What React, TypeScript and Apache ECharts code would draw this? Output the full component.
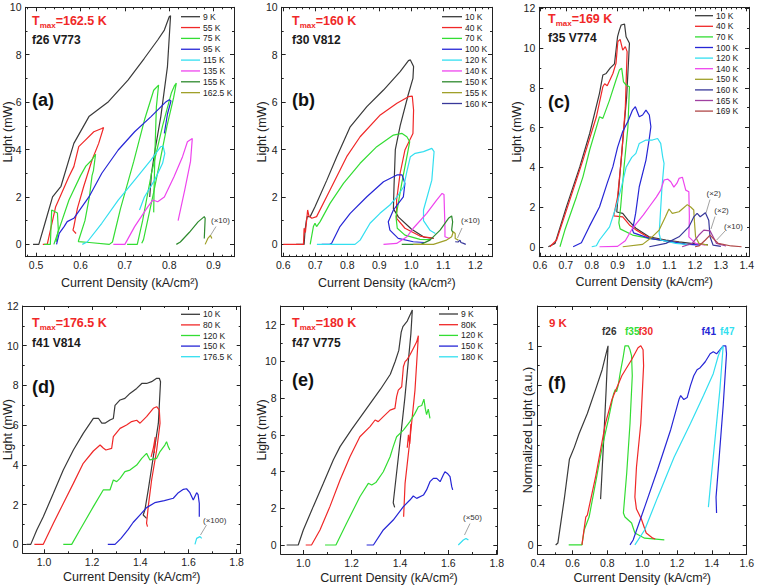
import React, { useEffect, useRef } from "react";
import * as echarts from "echarts";

const F = "'Liberation Sans', Arial, sans-serif";
const BLACK = "#3a3a3a";
const RED = "#f02828";
const GREEN = "#33dd33";
const BLUE = "#2626d6";
const CYAN = "#33dff0";
const MAGENTA = "#ee44ee";
const DKGREEN = "#2e8a2e";
const OLIVE = "#a0a02a";
const NAVY = "#38389a";
const PURPLE = "#a040a0";
const BROWN = "#b04848";

// ---------- panel (a) f26 V773 ----------
const a9K = [[0.493,0],[0.506,0],[0.52,0.9],[0.537,2.0],[0.556,2.45],[0.585,4.26],[0.619,5.39],[0.663,6.02],[0.707,6.93],[0.744,7.85],[0.774,8.62],[0.789,9.04],[0.8,9.6],[0.803,9.65],[0.796,7.5],[0.781,5.39],[0.768,3.98],[0.76,3.0],[0.756,2.0]];
const a55K = [[0.515,0],[0.525,0],[0.544,1.59],[0.574,2.86],[0.585,3.28],[0.596,4.12],[0.611,4.4],[0.63,4.75],[0.648,4.89],[0.652,4.93],[0.641,4.26],[0.626,3.56],[0.607,2.43],[0.593,1.52],[0.585,0.75],[0.583,0.6],[0.59,0.46]];
const a75K_1 = [[0.518,0],[0.532,0],[0.535,1.45],[0.548,1.32],[0.55,0.6],[0.545,0.1]];
const a75K_2 = [[0.54,0],[0.574,1.87],[0.6,2.9],[0.612,3.3],[0.625,3.55],[0.634,3.8],[0.629,3.1],[0.626,2.9],[0.62,2.0],[0.61,1.0],[0.598,0.3],[0.595,0.12],[0.62,0.08],[0.665,0.0],[0.672,0.1],[0.69,1.5],[0.72,3.5],[0.745,5.3],[0.765,6.5],[0.776,6.72],[0.771,5.8],[0.768,4.0],[0.766,2.5],[0.765,1.35]];
const a75K_3 = [[0.705,0],[0.728,0],[0.74,1.0],[0.76,3.0],[0.785,5.0],[0.805,6.4],[0.812,6.7],[0.816,6.8],[0.81,6.2],[0.795,5.0],[0.78,3.6],[0.765,2.2],[0.75,0.9],[0.742,0.2],[0.738,0.05]];
const a95K = [[0.546,0],[0.552,0.46],[0.563,0.75],[0.57,0.96],[0.585,1.1],[0.619,2.0],[0.648,3.0],[0.685,3.98],[0.722,4.75],[0.759,5.39],[0.793,6.02],[0.8,6.1],[0.804,6.05],[0.796,5.5],[0.789,4.68]];
const a115K = [[0.604,0],[0.615,0.1],[0.648,0.89],[0.685,1.87],[0.722,2.71],[0.759,3.56],[0.781,4.12],[0.786,4.15],[0.79,3.84],[0.785,3.42],[0.767,2.71],[0.744,2.0],[0.733,1.45]];
const a135K = [[0.674,0],[0.7,0],[0.722,0.75],[0.752,1.59],[0.763,1.87],[0.774,1.8],[0.789,2.0],[0.811,2.86],[0.83,3.7],[0.841,4.33],[0.852,4.47],[0.848,3.5],[0.835,2.3],[0.82,1.0]];
const a155K = [[0.816,0],[0.825,0.1],[0.845,0.5],[0.865,0.95],[0.879,1.17],[0.881,1.1],[0.879,0.25]];
const a162K = [[0.881,0],[0.887,0.25],[0.893,0.38],[0.896,0.25]];

// ---------- panel (b) f30 V812 ----------
const b10K = [[0.64,0],[0.665,0],[0.668,0.6],[0.672,1.0],[0.675,1.17],[0.684,1.17],[0.699,1.59],[0.736,2.71],[0.767,3.7],[0.809,4.96],[0.861,5.81],[0.913,6.51],[0.965,7.29],[0.991,7.75],[0.997,7.78],[1.007,7.5],[1.005,7.0],[0.99,6.3],[0.965,5.0],[0.95,4.0],[0.946,2.5],[0.944,1.5],[0.96,1.15],[1.0,0.65],[1.04,0.3],[1.07,0.25]];
const b40K = [[0.6,0],[0.663,0],[0.665,0.68],[0.669,0.5],[0.673,1.03],[0.676,1.45],[0.68,1.2],[0.689,1.1],[0.704,1.17],[0.746,2.29],[0.798,3.7],[0.84,4.54],[0.903,5.46],[0.955,5.95],[0.991,6.23],[1.003,6.25],[1.007,5.67],[1.005,4.68],[0.98,3.98],[0.965,3.0],[0.954,1.87],[0.954,1.1],[0.98,0.68],[1.027,0.35],[1.069,0.25]];
const b70K = [[0.684,0],[0.694,0.75],[0.699,0.89],[0.704,0.75],[0.715,0.96],[0.746,1.73],[0.788,2.57],[0.84,3.42],[0.892,4.12],[0.944,4.61],[0.971,4.68],[0.986,4.54],[0.995,4.33],[0.99,3.98],[0.97,2.57],[0.952,1.17],[0.956,0.68],[0.98,0.39],[1.027,0.21],[1.06,0.2]];
const b100K = [[0.72,0],[0.745,0],[0.751,0.05],[0.777,0.75],[0.809,1.31],[0.861,2.01],[0.913,2.64],[0.955,2.93],[0.971,2.93],[0.98,2.57],[0.975,2.0],[0.944,1.45],[0.928,0.95],[0.933,0.6],[0.959,0.25],[1.006,0.11],[1.04,0.08]];
const b120K = [[0.705,0],[0.824,0],[0.84,0.18],[0.871,0.89],[0.902,1.31],[0.933,1.66],[0.955,2.0],[0.976,2.43],[0.986,3.07],[0.997,3.7],[1.012,3.84],[1.038,3.91],[1.064,4.05],[1.071,3.91],[1.064,2.71],[1.038,1.45],[1.038,1.0],[1.058,0.6],[1.075,0.46]];
const b140K = [[0.913,0],[0.954,0.04],[0.986,0.32],[1.006,0.68],[1.048,1.31],[1.079,1.87],[1.096,2.15],[1.102,2.1],[1.105,0.74],[1.105,0.32],[1.12,0.25]];
const b150K = [[0.97,0],[1.03,0],[1.058,0.18],[1.09,0.6],[1.116,1.1],[1.126,1.2],[1.129,0.95],[1.126,0.6],[1.13,0.5]];
const b155K = [[1.006,0],[1.069,0],[1.11,0.18],[1.126,0.32],[1.131,0.53],[1.137,0.46],[1.137,0.25],[1.147,0.18]];
const b160K = [[1.137,0.11],[1.146,0.1],[1.152,0.18],[1.155,0.08],[1.163,0.04],[1.17,0]];

// ---------- panel (c) f35 V774 ----------
const c10K = [[0.632,0],[0.658,0.17],[0.702,2.01],[0.754,4.03],[0.792,5.7],[0.83,7.72],[0.843,8.64],[0.856,8.72],[0.872,9.0],[0.888,9.2],[0.9,10.57],[0.907,10.9],[0.914,11.16],[0.927,11.2],[0.933,10.57],[0.946,10.24],[0.935,7.5],[0.918,5.0],[0.905,3.0],[0.897,1.75],[0.92,1.68],[0.94,1.35],[0.971,0.93],[1.022,0.5],[1.087,0.34],[1.138,0.25],[1.2,0.15],[1.25,0.1]];
const c40K = [[0.638,0],[0.664,0.34],[0.715,2.35],[0.766,4.36],[0.818,6.54],[0.843,8.05],[0.85,8.2],[0.86,8.1],[0.882,8.72],[0.894,9.23],[0.901,10.32],[0.91,10.44],[0.92,9.9],[0.93,10.07],[0.937,9.82],[0.93,7.0],[0.915,4.5],[0.9,2.5],[0.885,1.55],[0.92,1.5],[0.946,1.1],[0.971,0.85],[1.022,0.45],[1.087,0.3],[1.15,0.2]];
const c70K = [[0.677,0],[0.696,0.84],[0.741,2.52],[0.766,3.52],[0.792,4.87],[0.83,6.54],[0.843,6.46],[0.869,7.38],[0.894,8.39],[0.907,8.89],[0.916,8.98],[0.923,8.3],[0.933,8.14],[0.946,8.05],[0.94,6.0],[0.925,4.0],[0.912,2.0],[0.905,1.2],[0.91,0.9],[0.958,0.59],[1.023,0.42],[1.112,0.25],[1.16,0.15]];
const c100K = [[0.728,0],[0.76,0.2],[0.79,1.0],[0.83,2.0],[0.86,3.2],[0.882,4.03],[0.9,5.0],[0.92,5.8],[0.94,6.3],[0.958,6.88],[0.969,7.05],[0.984,6.54],[0.997,6.63],[1.01,6.88],[1.023,6.63],[1.029,6.04],[1.022,5.37],[1.01,4.36],[0.984,3.02],[0.97,1.68],[0.958,0.84],[0.962,0.7],[1.023,0.42],[1.112,0.25],[1.163,0.13],[1.22,0.08]];
const c120K = [[0.8,0],[0.818,0.05],[0.83,0.34],[0.869,1.0],[0.894,2.0],[0.915,3.0],[0.933,4.0],[0.955,4.5],[0.971,4.7],[0.984,5.2],[1.01,5.37],[1.035,5.37],[1.055,5.45],[1.067,5.2],[1.075,4.5],[1.08,4.2],[1.072,3.0],[1.065,1.5],[1.061,0.67],[1.067,0.34],[1.125,0.17],[1.18,0.1]];
const c140K = [[0.83,0],[0.9,0.02],[0.93,0.3],[0.958,0.93],[1.0,1.6],[1.022,2.0],[1.05,2.5],[1.067,2.85],[1.08,3.36],[1.095,3.4],[1.106,3.27],[1.118,3.0],[1.13,3.2],[1.138,3.44],[1.151,3.5],[1.164,2.85],[1.176,2.77],[1.178,1.5],[1.176,0.5],[1.202,0.17],[1.24,0.08]];
const c150K = [[0.92,0],[0.997,0.12],[1.03,0.45],[1.061,0.84],[1.085,1.5],[1.099,1.9],[1.112,1.68],[1.138,1.76],[1.155,1.95],[1.17,2.12],[1.183,2.0],[1.195,1.85],[1.198,1.2],[1.202,0.5],[1.215,0.17],[1.25,0.08]];
const c160K = [[1.023,0],[1.087,0.17],[1.138,0.5],[1.176,1.0],[1.195,1.5],[1.208,1.68],[1.22,1.51],[1.24,1.71],[1.253,1.34],[1.258,0.5],[1.27,0.08],[1.3,0.02]];
const c165K = [[1.15,0],[1.189,0.17],[1.215,0.59],[1.234,0.84],[1.258,0.8],[1.27,0.5],[1.283,0.17],[1.32,0.04]];
const c169K = [[1.2,0],[1.215,0.04],[1.24,0.34],[1.258,0.59],[1.27,0.42],[1.29,0.17],[1.34,0.04],[1.38,0]];

// ---------- panel (d) f41 V814 ----------
const d10K = [[0.928,0],[0.945,0],[0.97,0.72],[0.997,1.39],[1.039,2.57],[1.08,3.74],[1.122,4.75],[1.163,5.59],[1.205,6.34],[1.226,6.35],[1.24,6.1],[1.253,6.1],[1.274,6.26],[1.288,6.34],[1.295,7.0],[1.316,7.27],[1.336,7.35],[1.357,7.6],[1.385,7.85],[1.406,8.1],[1.426,8.1],[1.447,8.19],[1.468,8.36],[1.479,8.36],[1.484,8.19],[1.475,6.1],[1.454,4.41],[1.433,2.74],[1.419,1.73],[1.412,1.48],[1.426,1.31]];
const d80K = [[0.96,0],[0.997,0],[1.039,1.06],[1.08,2.06],[1.122,3.07],[1.163,4.08],[1.205,4.7],[1.233,5.0],[1.246,4.85],[1.257,4.75],[1.281,4.83],[1.288,5.42],[1.316,5.84],[1.343,6.01],[1.364,6.18],[1.385,6.25],[1.399,6.1],[1.426,6.43],[1.454,6.85],[1.468,6.93],[1.479,6.76],[1.482,6.1],[1.468,4.75],[1.447,3.24],[1.433,1.9],[1.426,1.06],[1.43,0.89]];
const d80K_b = [[1.445,4.4],[1.455,4.9],[1.462,5.4],[1.458,4.6]];
const d120K = [[1.08,0],[1.115,0],[1.149,0.72],[1.205,1.9],[1.246,2.74],[1.274,2.74],[1.288,3.24],[1.302,3.16],[1.316,3.32],[1.336,3.66],[1.357,3.74],[1.385,3.99],[1.406,4.33],[1.426,4.58],[1.44,4.25],[1.468,4.33],[1.482,4.67],[1.502,5.0],[1.509,5.17],[1.516,4.92],[1.523,4.75]];
const d150K = [[1.265,0],[1.295,0],[1.32,0.3],[1.35,0.75],[1.37,1.1],[1.4,1.5],[1.426,1.85],[1.46,2.1],[1.5,2.2],[1.537,2.32],[1.558,2.6],[1.579,2.77],[1.592,2.8],[1.606,2.6],[1.62,2.23],[1.634,2.6],[1.64,2.5],[1.645,2.06],[1.645,1.39]];
const d176K = [[1.627,0],[1.634,0.3],[1.648,0.39],[1.655,0.3]];

// ---------- panel (e) f47 V775 ----------
const e9K = [[0.931,0],[0.979,0],[1.0,0.82],[1.041,2.09],[1.083,3.36],[1.124,4.63],[1.152,5.36],[1.2,6.3],[1.26,7.4],[1.32,8.5],[1.36,9.3],[1.38,10.0],[1.395,10.6],[1.405,11.6],[1.412,11.9],[1.43,12.2],[1.451,12.8],[1.445,11.5],[1.42,8.0],[1.395,5.0],[1.372,2.3],[1.378,2.05]];
const e80K = [[1.01,0],[1.034,0],[1.069,0.82],[1.11,2.09],[1.152,3.54],[1.193,4.81],[1.234,5.9],[1.276,6.45],[1.297,6.81],[1.31,6.72],[1.331,6.99],[1.359,7.35],[1.379,7.44],[1.386,8.08],[1.393,8.44],[1.407,8.62],[1.414,9.71],[1.421,9.99],[1.428,10.08],[1.441,10.35],[1.455,10.71],[1.469,11.07],[1.476,11.4],[1.462,8.44],[1.441,5.72],[1.421,3.36],[1.415,1.54]];
const e80K_b = [[1.43,5.3],[1.435,6.0],[1.44,5.5],[1.445,6.6]];
const e120K = [[1.09,0],[1.135,0],[1.179,1.18],[1.234,2.63],[1.269,3.36],[1.283,3.27],[1.3,3.4],[1.331,3.99],[1.359,4.81],[1.372,5.36],[1.386,5.9],[1.414,6.26],[1.441,6.72],[1.462,7.17],[1.476,7.53],[1.49,7.6],[1.499,7.95],[1.505,7.4],[1.51,7.1],[1.517,7.4],[1.524,6.9]];
const e150K = [[1.262,0],[1.29,0],[1.331,0.82],[1.372,1.36],[1.414,2.09],[1.441,2.45],[1.455,2.67],[1.469,2.54],[1.497,2.72],[1.51,3.0],[1.524,3.45],[1.538,3.63],[1.552,3.63],[1.566,3.45],[1.579,3.81],[1.586,3.99],[1.596,3.9],[1.607,3.72],[1.614,3.18],[1.618,3.0]];
const e180K = [[1.641,0],[1.662,0.27],[1.673,0.36],[1.683,0.27]];

// ---------- panel (f) normalized, 9 K ----------
const fF26 = [[0.503,0],[0.516,0.01],[0.554,0.24],[0.582,0.43],[0.61,0.49],[0.638,0.56],[0.685,0.66],[0.732,0.78],[0.77,0.88],[0.798,0.98],[0.804,1.0],[0.793,0.78],[0.779,0.53],[0.766,0.31],[0.761,0.23]];
const fF35 = [[0.578,0],[0.654,0],[0.667,0.075],[0.695,0.14],[0.732,0.31],[0.77,0.49],[0.808,0.64],[0.836,0.76],[0.845,0.78],[0.853,0.77],[0.862,0.8],[0.873,0.86],[0.892,0.95],[0.901,1.0],[0.92,1.0],[0.93,0.98],[0.939,0.95],[0.943,0.85],[0.93,0.61],[0.911,0.36],[0.892,0.16],[0.901,0.14],[0.939,0.11],[0.958,0.06],[1.014,0.034],[1.127,0.025]];
const fF30 = [[0.654,0],[0.676,0.14],[0.685,0.15],[0.732,0.34],[0.789,0.61],[0.826,0.73],[0.883,0.85],[0.939,0.93],[0.976,0.99],[0.992,1.0],[1.005,0.98],[1.008,0.9],[0.992,0.61],[0.967,0.39],[0.958,0.24],[0.967,0.18],[0.995,0.13],[1.023,0.06],[1.061,0.034],[1.075,0.03]];
const fF41 = [[0.93,0],[0.948,0.025],[1.014,0.19],[1.089,0.38],[1.164,0.58],[1.211,0.73],[1.221,0.75],[1.239,0.73],[1.258,0.74],[1.277,0.8],[1.296,0.85],[1.315,0.88],[1.333,0.89],[1.362,0.92],[1.39,0.96],[1.408,0.97],[1.427,0.96],[1.446,0.98],[1.465,1.0],[1.48,1.0],[1.484,0.96],[1.465,0.7],[1.442,0.44],[1.424,0.24],[1.427,0.16]];
const fF47 = [[0.958,0],[1.014,0.075],[1.089,0.24],[1.183,0.44],[1.277,0.61],[1.352,0.75],[1.408,0.86],[1.437,0.95],[1.45,0.98],[1.465,1.0],[1.446,0.78],[1.418,0.53],[1.393,0.31],[1.38,0.19]];

// ---------- tick labels ----------
const aXTicks = [0.5, 0.6, 0.7, 0.8, 0.9];
const bXTicks = [0.6, 0.7, 0.8, 0.9, 1.0, 1.1, 1.2];
const cXTicks = [0.6, 0.7, 0.8, 0.9, 1.0, 1.1, 1.2, 1.3, 1.4];
const deXTicks = [1.0, 1.2, 1.4, 1.6, 1.8];
const fXTicks = [0.4, 0.6, 0.8, 1.0, 1.2, 1.4, 1.6];
const abYTicks = [0, 2, 4, 6, 8, 10];
const cdeYTicks = [0, 2, 4, 6, 8, 10, 12];
const fYTicks = [0, 0.2, 0.4, 0.6, 0.8, 1.0];
const fYLabels = [0, 1];

type Line = { name: string; color: string; segs: number[][][] };
type Note = { text: string; tx: number; ty: number; l: number[] };

const XNAME = "Current Density (kA/cm²)";

const panels = [
  {
    grid: { left: 22.7, top: 7.3, width: 211.3, height: 249.4 },
    x: [0.476, 0.946], y: [-0.52, 10], xTicks: aXTicks, xMinorN: 5, yTicks: abYTicks, yLabels: abYTicks, yMinorN: 2,
    yName: "Light (mW)", yGap: 11.5, xGap: 19.5,
    lines: [
      { name: "9 K", color: BLACK, segs: [a9K] },
      { name: "55 K", color: RED, segs: [a55K] },
      { name: "75 K", color: GREEN, segs: [a75K_1, a75K_2, a75K_3] },
      { name: "95 K", color: BLUE, segs: [a95K] },
      { name: "115 K", color: CYAN, segs: [a115K] },
      { name: "135 K", color: MAGENTA, segs: [a135K] },
      { name: "155 K", color: DKGREEN, segs: [a155K] },
      { name: "162.5 K", color: OLIVE, segs: [a162K] },
    ] as Line[],
    leg: { x1: 181, x2: 200, tx: 203, y0: 16.7, dy: 10.85 },
    head: { tmax: "=162.5 K", id: "f26 V773", tag: "(a)", x: 32, y1: 21, y2: 40, y3: 100 },
    notes: [{ text: "(×10)", tx: 211, ty: 220, l: [216, 226.5, 209.5, 237] }] as Note[],
  },
  {
    grid: { left: 281.7, top: 7.3, width: 210.3, height: 249.4 },
    x: [0.595, 1.252], y: [-0.52, 10], xTicks: bXTicks, xMinorN: 5, yTicks: abYTicks, yLabels: abYTicks, yMinorN: 2,
    yName: "Light (mW)", yGap: 13, xGap: 19.5,
    lines: [
      { name: "10 K", color: BLACK, segs: [b10K] },
      { name: "40 K", color: RED, segs: [b40K] },
      { name: "70 K", color: GREEN, segs: [b70K] },
      { name: "100 K", color: BLUE, segs: [b100K] },
      { name: "120 K", color: CYAN, segs: [b120K] },
      { name: "140 K", color: MAGENTA, segs: [b140K] },
      { name: "150 K", color: DKGREEN, segs: [b150K] },
      { name: "155 K", color: OLIVE, segs: [b155K] },
      { name: "160 K", color: NAVY, segs: [b160K] },
    ] as Line[],
    leg: { x1: 442, x2: 462, tx: 465, y0: 16.7, dy: 10.85 },
    head: { tmax: "=160 K", id: "f30 V812", tag: "(b)", x: 292, y1: 21, y2: 40, y3: 100 },
    notes: [{ text: "(×10)", tx: 461, ty: 220, l: [462, 228, 457.5, 238] }] as Note[],
  },
  {
    grid: { left: 539.3, top: 7.3, width: 211.4, height: 249.4 },
    x: [0.597, 1.409], y: [-0.5, 12.05], xTicks: cXTicks, xMinorN: 5, yTicks: cdeYTicks, yLabels: cdeYTicks, yMinorN: 2,
    yName: "Light (mW)", yGap: 16, xGap: 19,
    lines: [
      { name: "10 K", color: BLACK, segs: [c10K] },
      { name: "40 K", color: RED, segs: [c40K] },
      { name: "70 K", color: GREEN, segs: [c70K] },
      { name: "100 K", color: BLUE, segs: [c100K] },
      { name: "120 K", color: CYAN, segs: [c120K] },
      { name: "140 K", color: MAGENTA, segs: [c140K] },
      { name: "150 K", color: OLIVE, segs: [c150K] },
      { name: "160 K", color: NAVY, segs: [c160K] },
      { name: "165 K", color: PURPLE, segs: [c165K] },
      { name: "169 K", color: BROWN, segs: [c169K] },
    ] as Line[],
    leg: { x1: 695, x2: 713, tx: 716, y0: 15.7, dy: 10.6 },
    head: { tmax: "=169 K", id: "f35 V774", tag: "(c)", x: 548, y1: 19, y2: 38.3, y3: 101.7 },
    notes: [
      { text: "(×2)", tx: 706.5, ty: 193.3, l: [710, 199.5, 706, 213] },
      { text: "(×2)", tx: 714.3, ty: 210.7, l: [715, 216.5, 711, 229] },
      { text: "(×10)", tx: 724, ty: 226, l: [725, 231, 716.7, 240] },
    ] as Note[],
  },
  {
    grid: { left: 22.7, top: 306, width: 218, height: 247.3 },
    x: [0.9115, 1.817], y: [-0.45, 12], xTicks: deXTicks, xMinorN: 2, yTicks: cdeYTicks, yLabels: cdeYTicks, yMinorN: 2,
    yName: "Light (mW)", yGap: 8, xGap: 17,
    lines: [
      { name: "10 K", color: BLACK, segs: [d10K] },
      { name: "80 K", color: RED, segs: [d80K, d80K_b] },
      { name: "120 K", color: GREEN, segs: [d120K] },
      { name: "150 K", color: BLUE, segs: [d150K] },
      { name: "176.5 K", color: CYAN, segs: [d176K] },
    ] as Line[],
    leg: { x1: 181, x2: 200, tx: 203, y0: 314.3, dy: 10.6 },
    head: { tmax: "=176.5 K", id: "f41 V814", tag: "(d)", x: 32, y1: 323.3, y2: 342.7, y3: 386.7 },
    notes: [{ text: "(×100)", tx: 203, ty: 520, l: [206.5, 525, 200.5, 535] }] as Note[],
  },
  {
    grid: { left: 280.7, top: 306, width: 216.6, height: 248 },
    x: [0.9065, 1.8025], y: [-0.49, 13.02], xTicks: deXTicks, xMinorN: 2, yTicks: cdeYTicks, yLabels: cdeYTicks, yMinorN: 2,
    yName: "Light (mW)", yGap: 12.5, xGap: 17,
    lines: [
      { name: "9 K", color: BLACK, segs: [e9K] },
      { name: "80K", color: RED, segs: [e80K, e80K_b] },
      { name: "120 K", color: GREEN, segs: [e120K] },
      { name: "150 K", color: BLUE, segs: [e150K] },
      { name: "180 K", color: CYAN, segs: [e180K] },
    ] as Line[],
    leg: { x1: 439, x2: 458, tx: 461, y0: 314, dy: 10.7 },
    head: { tmax: "=180 K", id: "f47 V775", tag: "(e)", x: 292, y1: 323.3, y2: 343.3, y3: 380 },
    notes: [{ text: "(×50)", tx: 463, ty: 517.7, l: [470, 523.5, 464.5, 535] }] as Note[],
  },
  {
    grid: { left: 537.7, top: 306, width: 213, height: 248.3 },
    x: [0.4, 1.6], y: [-0.047, 1.2], xTicks: fXTicks, xMinorN: 2, yTicks: fYTicks, yLabels: fYLabels, yMinorN: 2,
    yName: "Normalized Light (a.u.)", yGap: 3, xGap: 17,
    lines: [
      { name: "f26", color: BLACK, segs: [fF26] },
      { name: "f35", color: GREEN, segs: [fF35] },
      { name: "f30", color: RED, segs: [fF30] },
      { name: "f41", color: BLUE, segs: [fF41] },
      { name: "f47", color: CYAN, segs: [fF47] },
    ] as Line[],
    leg: null,
    head: null,
    notes: [] as Note[],
  },
];

function minors(majors: number[], n: number, min: number, max: number) {
  const step = (majors[1] - majors[0]) / n;
  const out: number[] = [];
  const start = majors[0] - Math.ceil((majors[0] - min) / step) * step;
  for (let k = 0; ; k++) {
    const v = +(start + k * step).toFixed(6);
    if (v > max) break;
    if (v < min) continue;
    const isMajor = majors.some((m) => Math.abs(m - v) < step / 10);
    if (!isMajor) out.push(v);
  }
  return out;
}

const AX = "#222";

function buildOption() {
  const xAxis: any[] = [];
  const yAxis: any[] = [];
  const grid: any[] = [];
  const series: any[] = [];
  const graphic: any[] = [];

  panels.forEach((p, i) => {
    grid.push({ ...p.grid, containLabel: false });
    const xMin = minors(p.xTicks, p.xMinorN, p.x[0], p.x[1]);
    const yMin = minors(p.yTicks, p.yMinorN, p.y[0], p.y[1]);
    const base = (pos: string, min: number, max: number) => ({
      type: "value", gridIndex: i, position: pos, min, max,
      splitLine: { show: false },
      axisLine: { show: false, onZero: false },
      axisLabel: { show: false },
      axisTick: { show: false },
    });
    const tick = (vals: number[], len: number) => ({
      show: true, inside: true, length: len, customValues: vals, lineStyle: { color: AX, width: 1 },
    });
    xAxis.push({
      ...base("bottom", p.x[0], p.x[1]),
      axisLine: { show: true, onZero: false, lineStyle: { color: AX, width: 1 } },
      axisTick: tick(p.xTicks, 4),
      axisLabel: {
        show: true, customValues: p.xTicks, margin: 3, fontSize: 10.5, color: "#222", fontFamily: F,
        formatter: (v: number) => v.toFixed(1),
      },
      name: XNAME, nameLocation: "middle", nameGap: p.xGap, nameMoveOverlap: false,
      nameTextStyle: { fontSize: 12.5, color: "#222", fontFamily: F },
    });
    xAxis.push({ ...base("bottom", p.x[0], p.x[1]), axisTick: tick(xMin, 2) });
    xAxis.push({
      ...base("top", p.x[0], p.x[1]),
      axisLine: { show: true, onZero: false, lineStyle: { color: AX, width: 1 } },
      axisTick: tick(p.xTicks, 4),
    });
    xAxis.push({ ...base("top", p.x[0], p.x[1]), axisTick: tick(xMin, 2) });
    yAxis.push({
      ...base("left", p.y[0], p.y[1]),
      axisLine: { show: true, onZero: false, lineStyle: { color: AX, width: 1 } },
      axisTick: tick(p.yTicks, 4),
      axisLabel: {
        show: true, customValues: p.yLabels, margin: 4, fontSize: 10.5, color: "#222", fontFamily: F,
        formatter: (v: number) => String(Math.round(v)),
      },
      name: p.yName, nameLocation: "middle", nameGap: p.yGap, nameRotate: 90, nameMoveOverlap: false,
      nameTextStyle: { fontSize: 12.5, color: "#222", fontFamily: F },
    });
    yAxis.push({ ...base("left", p.y[0], p.y[1]), axisTick: tick(yMin, 2) });
    yAxis.push({
      ...base("right", p.y[0], p.y[1]),
      axisLine: { show: true, onZero: false, lineStyle: { color: AX, width: 1 } },
      axisTick: tick(p.yTicks, 4),
    });
    yAxis.push({ ...base("right", p.y[0], p.y[1]), axisTick: tick(yMin, 2) });

    p.lines.forEach((ln) => {
      ln.segs.forEach((seg, k) => {
        series.push({
          type: "line", name: ln.name + (k ? "_" + k : ""), xAxisIndex: 4 * i, yAxisIndex: 4 * i,
          data: seg, showSymbol: false, symbol: "none", silent: true,
          lineStyle: { color: ln.color, width: 1.2 }, itemStyle: { color: ln.color },
        });
      });
    });

    if (p.leg) {
      p.lines.forEach((ln, k) => {
        const y = p.leg!.y0 + k * p.leg!.dy;
        graphic.push({ type: "line", shape: { x1: p.leg!.x1, y1: y, x2: p.leg!.x2, y2: y }, style: { stroke: ln.color, lineWidth: 1.3 } });
        graphic.push({
          type: "text", x: p.leg!.tx, y, style: { text: ln.name, fill: "#222", fontSize: 8.5, fontFamily: F, verticalAlign: "middle", align: "left" },
        });
      });
    }
    if (p.head) {
      const h = p.head;
      graphic.push({
        type: "text", x: h.x, y: h.y1,
        style: {
          text: "{t|T}{s|max}{t|" + h.tmax + "}", verticalAlign: "middle", align: "left",
          rich: {
            t: { fill: RED, fontSize: 12.5, fontWeight: "bold", fontFamily: F, lineHeight: 17, verticalAlign: "middle" },
            s: { fill: RED, fontSize: 8, fontWeight: "bold", fontFamily: F, lineHeight: 17, verticalAlign: "bottom" },
          },
        },
      });
      graphic.push({ type: "text", x: h.x, y: h.y2, style: { text: h.id, fill: "#1a1a1a", fontSize: 12, fontWeight: "bold", fontFamily: F, verticalAlign: "middle", align: "left" } });
      graphic.push({ type: "text", x: h.x, y: h.y3, style: { text: h.tag, fill: "#111", fontSize: 18, fontWeight: "bold", fontFamily: F, verticalAlign: "middle", align: "left" } });
    }
    p.notes.forEach((n) => {
      graphic.push({ type: "line", shape: { x1: n.l[0], y1: n.l[1], x2: n.l[2], y2: n.l[3] }, style: { stroke: "#8a8a8a", lineWidth: 0.8 } });
      graphic.push({ type: "text", x: n.tx, y: n.ty, style: { text: n.text, fill: "#333", fontSize: 8, fontFamily: F, verticalAlign: "middle", align: "left" } });
    });
  });

  graphic.push({ type: "text", x: 549, y: 323.3, style: { text: "9 K", fill: RED, fontSize: 11.5, fontWeight: "bold", fontFamily: F, verticalAlign: "middle" } });
  graphic.push({ type: "text", x: 548, y: 383.3, style: { text: "(f)", fill: "#111", fontSize: 18, fontWeight: "bold", fontFamily: F, verticalAlign: "middle" } });
  const fLabels = [
    { t: "f26", c: "#333", x: 602 },
    { t: "f35", c: GREEN, x: 625 },
    { t: "f30", c: RED, x: 638.5 },
    { t: "f41", c: BLUE, x: 701.5 },
    { t: "f47", c: CYAN, x: 720 },
  ];
  fLabels.forEach((l) => {
    graphic.push({ type: "text", x: l.x, y: 331.7, style: { text: l.t, fill: l.c, fontSize: 10, fontWeight: "bold", fontFamily: F, verticalAlign: "middle" } });
  });

  return { animation: false, backgroundColor: "#fff", grid, xAxis, yAxis, series, graphic };
}

export default function App() {
  const ref = useRef<HTMLDivElement>(null);
  useEffect(() => {
    if (!ref.current) return;
    const chart = echarts.init(ref.current, undefined, { renderer: "svg" });
    chart.setOption(buildOption() as any);
    return () => chart.dispose();
  }, []);
  return <div ref={ref} style={{ position: "absolute", left: 0, top: 0, width: 757, height: 588, background: "#fff" }} />;
}
